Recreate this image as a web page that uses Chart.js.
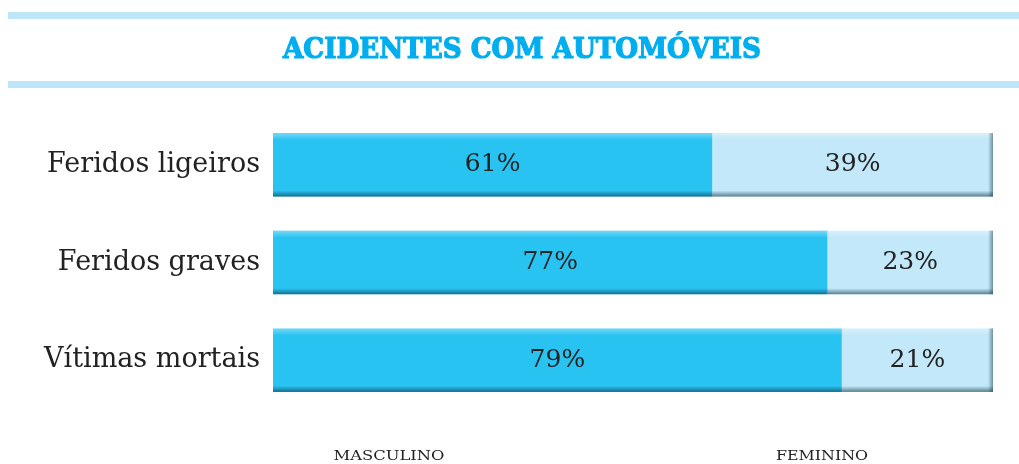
<!DOCTYPE html>
<html>
<head>
<meta charset="utf-8">
<script src="https://cdn.jsdelivr.net/npm/chart.js@4.4.1/dist/chart.umd.min.js"></script>
<style>
  html, body { margin: 0; padding: 0; background: #fff; }
  #wrap { width: 1019px; height: 464px; position: relative; }
</style>
</head>
<body>
<div id="wrap"><canvas id="chart_acidentes"></canvas></div>
<script>
const categorias = ["Feridos ligeiros", "Feridos graves", "Vítimas mortais"];
const masculino = [61, 77, 79];
const feminino = [39, 23, 21];
const series = ["MASCULINO", "FEMININO"];
const titulo = "ACIDENTES COM AUTOMÓVEIS";

const FONT = "'DejaVu Serif', serif";

// draws text squeezed/stretched to a given width
function fitText(ctx, txt, cx, cy, width, stroke) {
  const w = ctx.measureText(txt).width;
  ctx.save();
  ctx.translate(cx, cy);
  ctx.scale(width / w, 1);
  if (stroke) ctx.strokeText(txt, 0, 0);
  ctx.fillText(txt, 0, 0);
  ctx.restore();
}

// title + light blue rules
const headerPlugin = {
  id: "header",
  beforeDraw(chart) {
    const ctx = chart.ctx;
    ctx.save();
    ctx.fillStyle = "#bde6f8";
    ctx.fillRect(8, 12, chart.width - 8, 7);
    ctx.fillRect(8, 81, chart.width - 8, 7);
    ctx.fillStyle = "#00aeef";
    ctx.strokeStyle = "#00aeef";
    ctx.lineWidth = 1.2;
    ctx.font = "bold 28px " + FONT;
    ctx.textAlign = "center";
    ctx.textBaseline = "middle";
    fitText(ctx, titulo, 522, 51, 478, true);
    ctx.restore();
  },
};

// bevel on bars, percentages and bottom legend text
const barsPlugin = {
  id: "bars",
  afterDatasetsDraw(chart) {
    const ctx = chart.ctx;
    ctx.save();
    chart.data.datasets.forEach((ds, di) => {
      const meta = chart.getDatasetMeta(di);
      meta.data.forEach((bar, i) => {
        const p = bar.getProps(["x", "y", "base", "height"], true);
        const left = Math.min(p.x, p.base), right = Math.max(p.x, p.base);
        const top = p.y - p.height / 2, bottom = p.y + p.height / 2;
        const w = right - left;
        let g = ctx.createLinearGradient(0, top, 0, top + 7);
        g.addColorStop(0, "rgba(255,255,255,0.35)");
        g.addColorStop(1, "rgba(255,255,255,0)");
        ctx.fillStyle = g;
        ctx.fillRect(left, top, w, 7);
        g = ctx.createLinearGradient(0, bottom - 6, 0, bottom);
        g.addColorStop(0, "rgba(0,40,60,0)");
        g.addColorStop(1, "rgba(0,40,60,0.55)");
        ctx.fillStyle = g;
        ctx.fillRect(left, bottom - 6, w, 6);
        if (di === chart.data.datasets.length - 1) {
          g = ctx.createLinearGradient(right - 5, 0, right, 0);
          g.addColorStop(0, "rgba(0,40,60,0)");
          g.addColorStop(1, "rgba(0,40,60,0.45)");
          ctx.fillStyle = g;
          ctx.fillRect(right - 5, top, 5, p.height);
        }
        ctx.fillStyle = "#222";
        ctx.font = "25px " + FONT;
        ctx.textAlign = "center";
        ctx.textBaseline = "middle";
        ctx.fillText(ds.data[i] + "%", (left + right) / 2, p.y);
      });
    });
    ctx.fillStyle = "#222";
    ctx.font = "13px " + FONT;
    ctx.textAlign = "center";
    ctx.textBaseline = "middle";
    fitText(ctx, series[0], 389, 457, 111);
    fitText(ctx, series[1], 822, 457, 92);
    ctx.restore();
  },
};

function drawChart() {
  return new Chart(document.getElementById("chart_acidentes"), {
    type: "bar",
    data: {
      labels: categorias,
      datasets: [
        { label: series[0], data: masculino, backgroundColor: "#29c3f2", borderWidth: 0 },
        { label: series[1], data: feminino, backgroundColor: "#c2e8f9", borderWidth: 0 },
      ],
    },
    options: {
      indexAxis: "y",
      responsive: true,
      maintainAspectRatio: false,
      animation: false,
      layout: { padding: { top: 116, bottom: 55, right: 26, left: 0 } },
      datasets: { bar: { categoryPercentage: 1, barPercentage: 0.65 } },
      plugins: {
        legend: { display: false },
        tooltip: { enabled: false },
        title: { display: false },
      },
      scales: {
        x: { stacked: true, display: false, min: 0, max: 100 },
        y: {
          stacked: true,
          grid: { display: false, drawTicks: false },
          border: { display: false },
          afterFit(scale) { scale.width = 273; },
          ticks: { color: "#222", padding: 13, font: { family: FONT, size: 27 } },
        },
      },
    },
    plugins: [headerPlugin, barsPlugin],
  });
}

Promise.all([
  document.fonts.load("24px 'DejaVu Serif'"),
  document.fonts.load("bold 28px 'DejaVu Serif'"),
]).then(drawChart, drawChart);
</script>
</body>
</html>
